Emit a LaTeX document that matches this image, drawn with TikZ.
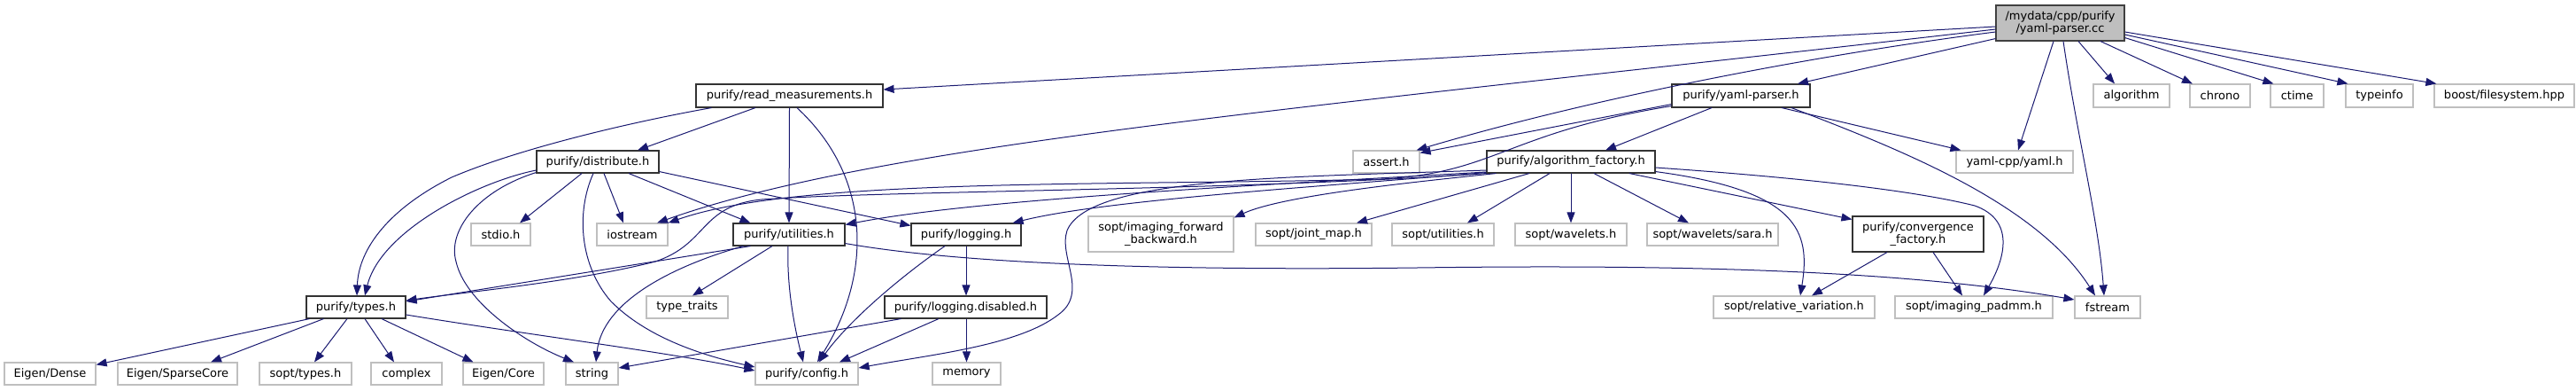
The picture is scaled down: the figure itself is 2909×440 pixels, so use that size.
\documentclass[tikz,border=0pt]{standalone}
\usepackage{fontspec}
\setmainfont{DejaVu Sans}
\usetikzlibrary{arrows.meta,calc}
\definecolor{edgec}{HTML}{191970}
\definecolor{extb}{HTML}{BFBFBF}
\definecolor{rootf}{HTML}{BFBFBF}
\begin{document}
\begin{tikzpicture}[x=1pt,y=-1pt,
  box/.style={rectangle, inner sep=0pt, align=center, font=\fontsize{13}{14.5}\selectfont, line width=1.2pt, fill=white, minimum height=25pt},
  proj/.style={box, draw=black!80, line width=1.1pt},
  ext/.style={box, draw=extb},
  rootnode/.style={box, draw=black!75, fill=rootf, line width=1.1pt},
  conn/.style={draw=edgec, line width=1pt, -{Triangle[length=12pt,width=9pt]}},
]
\useasboundingbox (0,0) rectangle (2909,440);
% row 1
\node[rootnode, minimum width=145pt, minimum height=40pt] (root) at (2326.5,26) {/mydata/cpp/purify\\/yaml-parser.cc};
% row 2
\node[proj, minimum width=211pt, minimum height=26pt] (rm) at (891.5,108) {purify/read\_measurements.h};
\node[proj, minimum width=156pt, minimum height=26pt] (yp) at (1966,108) {purify/yaml-parser.h};
\node[ext, minimum width=86pt, minimum height=26pt] (algo) at (2407,108) {algorithm};
\node[ext, minimum width=68pt, minimum height=26pt] (chrono) at (2507,108) {chrono};
\node[ext, minimum width=60pt, minimum height=26pt] (ctime) at (2594,108) {ctime};
\node[ext, minimum width=76pt, minimum height=26pt] (typeinfo) at (2687,108) {typeinfo};
\node[ext, minimum width=158pt, minimum height=26pt] (boost) at (2828,108) {boost/filesystem.hpp};
% row 3
\node[proj, minimum width=138pt] (dist) at (675,182.5) {purify/distribute.h};
\node[ext, minimum width=75pt] (assert) at (1565.5,182.5) {assert.h};
\node[proj, minimum width=190pt] (alg) at (1774,182.5) {purify/algorithm\_factory.h};
\node[ext, minimum width=132pt] (yaml) at (2275,182.5) {yaml-cpp/yaml.h};
% row 4
\node[ext, minimum width=67pt] (stdio) at (565.5,264.5) {stdio.h};
\node[ext, minimum width=80pt] (iostream) at (714,264.5) {iostream};
\node[proj, minimum width=126pt] (util) at (891,264.5) {purify/utilities.h};
\node[proj, minimum width=124pt] (log) at (1091,264.5) {purify/logging.h};
\node[ext, minimum width=164pt, minimum height=40pt] (ifb) at (1311,264) {sopt/imaging\_forward\\\_backward.h};
\node[ext, minimum width=131pt] (jm) at (1483.5,264.5) {sopt/joint\_map.h};
\node[ext, minimum width=115pt] (su) at (1629.5,264.5) {sopt/utilities.h};
\node[ext, minimum width=126pt] (wav) at (1774,264.5) {sopt/wavelets.h};
\node[ext, minimum width=148pt] (sara) at (1934,264.5) {sopt/wavelets/sara.h};
\node[proj, minimum width=148pt, minimum height=40pt] (conv) at (2166,264) {purify/convergence\\\_factory.h};
% row 5
\node[proj, minimum width=112pt] (types) at (402,346.5) {purify/types.h};
\node[ext, minimum width=92pt] (tt) at (776,346.5) {type\_traits};
\node[proj, minimum width=183pt] (logd) at (1090.5,346.5) {purify/logging.disabled.h};
\node[ext, minimum width=182pt] (rv) at (2026,346.5) {sopt/relative\_variation.h};
\node[ext, minimum width=178pt] (padmm) at (2229,346.5) {sopt/imaging\_padmm.h};
\node[ext, minimum width=74pt] (fstream) at (2380,346.5) {fstream};
% row 6
\node[ext, minimum width=103pt] (edense) at (56.5,421.5) {Eigen/Dense};
\node[ext, minimum width=135pt] (esparse) at (200.5,421.5) {Eigen/SparseCore};
\node[ext, minimum width=104pt] (stypes) at (345,421.5) {sopt/types.h};
\node[ext, minimum width=80pt] (complex) at (459,421.5) {complex};
\node[ext, minimum width=91pt] (ecore) at (568.5,421.5) {Eigen/Core};
\node[ext, minimum width=59pt] (string) at (668.5,421.5) {string};
\node[ext, minimum width=116pt] (config) at (911,421.5) {purify/config.h};
\node[ext, minimum width=77pt] (memory) at (1091.5,421.5) {memory};

% root edges
\draw[conn] ($(root.west)+(0,4)$) -- ($(rm.east)+(0,-7)$);
\draw[conn] ($(root.west)+(0,7)$) .. controls (1500,120) and (1000,160) .. ($(iostream.north)+(28,0)$);
\draw[conn] ($(root.west)+(0,10)$) .. controls (2050,62) and (1800,110) .. ($(assert.north east)+(-4,0)$);
\draw[conn] ($(root.south west)+(0,-3)$) -- ($(yp.north)+(64,0)$);
\draw[conn] ($(root.south)+(-7.5,0)$) -- ($(yaml.north)+(4,0)$);
\draw[conn] ($(root.south)+(3.5,0)$) .. controls (2345,150) and (2370,250) .. ($(fstream.north)+(-4,0)$);
\draw[conn] ($(root.south)+(20.5,0)$) -- ($(algo.north)+(-19,0)$);
\draw[conn] ($(root.south)+(45.5,0)$) -- ($(chrono.north)+(-31,0)$);
\draw[conn] ($(root.south east)+(0,-4)$) -- ($(ctime.north west)+(4,0)$);
\draw[conn] ($(root.east)+(0,13)$) -- ($(typeinfo.north west)+(3,0)$);
\draw[conn] ($(root.east)+(0,10)$) -- ($(boost.north west)+(3,0)$);
% yaml-parser.h edges
\draw[conn] ($(yp.south)+(-33,0)$) -- ($(alg.north)+(39,0)$);
\draw[conn] ($(yp.south west)+(0,-4)$) -- ($(assert.north east)+(0,3)$);
\draw[conn] ($(yp.south west)+(0,-2)$) .. controls (1700,150) and (1690,195) .. (1560,202) .. controls (1250,210) and (900,200) .. (iostream.north east);
\draw[conn] ($(yp.south)+(46,0)$) -- ($(yaml.north west)+(6,0)$);
\draw[conn] ($(yp.south)+(57,0)$) .. controls (2150,170) and (2300,230) .. ($(fstream.north)+(-14,0)$);
% read_measurements edges
\draw[conn] ($(rm.south)+(-38.5,0)$) -- ($(dist.north)+(45,0)$);
\draw[conn] (rm.south) -- (util.north);
\draw[conn] ($(rm.south)+(8.5,0)$) .. controls (985,200) and (985,310) .. ($(config.north)+(12,0)$);
\draw[conn] ($(rm.south west)+(18,0)$) .. controls (700,140) and (580,170) .. (510,200) .. controls (440,235) and (405,280) .. ($(types.north)+(1,0)$);
% distribute edges
\draw[conn] ($(dist.south)+(-18,0)$) -- ($(stdio.north)+(21.5,0)$);
\draw[conn] ($(dist.south)+(7,0)$) -- ($(iostream.north)+(-10,0)$);
\draw[conn] ($(dist.south)+(35,0)$) -- ($(util.north west)+(20,0)$);
\draw[conn] ($(dist.south east)+(0,-2)$) -- ($(log.west)+(0,-10)$);
\draw[conn] ($(dist.west)+(0,9.5)$) .. controls (540,205) and (430,260) .. ($(types.north)+(10,0)$);
\draw[conn] ($(dist.south west)+(0,-1)$) .. controls (540,215) and (505,260) .. (515,295) .. controls (525,340) and (590,385) .. ($(string.north)+(-20.5,0)$);
\draw[conn] ($(dist.south)+(-5,0)$) .. controls (650,240) and (655,300) .. (690,340) .. controls (730,380) and (790,400) .. ($(config.west)+(0,-7.5)$);
% utilities edges
\draw[conn] ($(util.south west)+(20,0)$) -- ($(types.east)+(0,-6.5)$);
\draw[conn] ($(util.south west)+(12,0)$) .. controls (760,300) and (680,340) .. ($(string.north)+(4.5,0)$);
\draw[conn] ($(util.south)+(-19,0)$) -- ($(tt.north)+(6,0)$);
\draw[conn] ($(util.south)+(-1,0)$) .. controls (888,330) and (900,380) .. ($(config.north)+(-4,0)$);
\draw[conn] ($(util.south east)+(0,-3)$) .. controls (1100,300) and (1350,305) .. (1600,302) .. controls (1900,298) and (2150,305) .. ($(fstream.west)+(0,-8.5)$);
% logging edges
\draw[conn] (log.south) -- ($(logd.north)+(0.5,0)$);
\draw[conn] ($(log.south)+(-24,0)$) .. controls (1020,310) and (960,360) .. ($(config.north)+(14,0)$);
\draw[conn] ($(logd.south)+(1,0)$) -- (memory.north);
\draw[conn] ($(logd.south)+(-30.5,0)$) -- ($(config.north)+(37,0)$);
\draw[conn] ($(logd.south west)+(19,0)$) -- ($(string.east)+(0,-6.5)$);
% types edges
\draw[conn] ($(types.south west)+(4,0)$) -- ($(edense.north east)+(0,3)$);
\draw[conn] ($(types.south west)+(20,0)$) -- ($(esparse.north)+(37.5,0)$);
\draw[conn] ($(types.south)+(-10,0)$) -- ($(stypes.north)+(10,0)$);
\draw[conn] ($(types.south)+(10,0)$) -- ($(complex.north)+(-14,0)$);
\draw[conn] ($(types.south)+(29,0)$) -- ($(ecore.north west)+(12,0)$);
\draw[conn] ($(types.east)+(0,8.5)$) .. controls (600,378) and (760,398) .. ($(config.west)+(0,-3.5)$);
% algorithm_factory edges
\draw[conn] ($(alg.south west)+(11,0)$) .. controls (1600,205) and (1450,220) .. ($(ifb.north east)+(0,2)$);
\draw[conn] ($(alg.south)+(-47,0)$) -- ($(jm.north)+(48.5,0)$);
\draw[conn] ($(alg.south)+(-24,0)$) -- ($(su.north)+(27.5,0)$);
\draw[conn] (alg.south) -- (wav.north);
\draw[conn] ($(alg.south)+(26,0)$) -- ($(sara.north)+(-27,0)$);
\draw[conn] ($(alg.south)+(66,0)$) -- ($(conv.north west)+(0,4)$);
\draw[conn] ($(alg.south east)+(0,-2)$) .. controls (2030,215) and (2045,260) .. ($(rv.north)+(7,0)$);
\draw[conn] ($(alg.east)+(0,6.5)$) .. controls (2000,198) and (2150,212) .. (2230,232) .. controls (2275,248) and (2265,290) .. ($(padmm.north)+(11,0)$);
\draw[conn] (alg.south west) .. controls (1400,215) and (1000,215) .. (860,225) .. controls (790,232) and (800,275) .. (740,295) .. controls (650,318) and (520,330) .. ($(types.east)+(0,-7.5)$);
\draw[conn] ($(alg.west)+(0,9.5)$) .. controls (1450,200) and (1230,200) .. (1205,260) .. controls (1195,290) and (1230,330) .. (1195,355) .. controls (1150,390) and (1050,400) .. ($(config.east)+(0,-6.5)$);
\draw[conn] ($(alg.west)+(0,11.5)$) .. controls (1400,210) and (1100,225) .. ($(util.north east)+(0,2)$);
\draw[conn] ($(alg.south west)+(0,-1)$) .. controls (1500,210) and (1250,225) .. ($(log.north east)+(-10,0)$);
% convergence_factory edges
\draw[conn] ($(conv.south)+(-35,0)$) -- ($(rv.north)+(20,0)$);
\draw[conn] ($(conv.south)+(17,0)$) -- ($(padmm.north)+(-13,0)$);
\end{tikzpicture}
\end{document}
